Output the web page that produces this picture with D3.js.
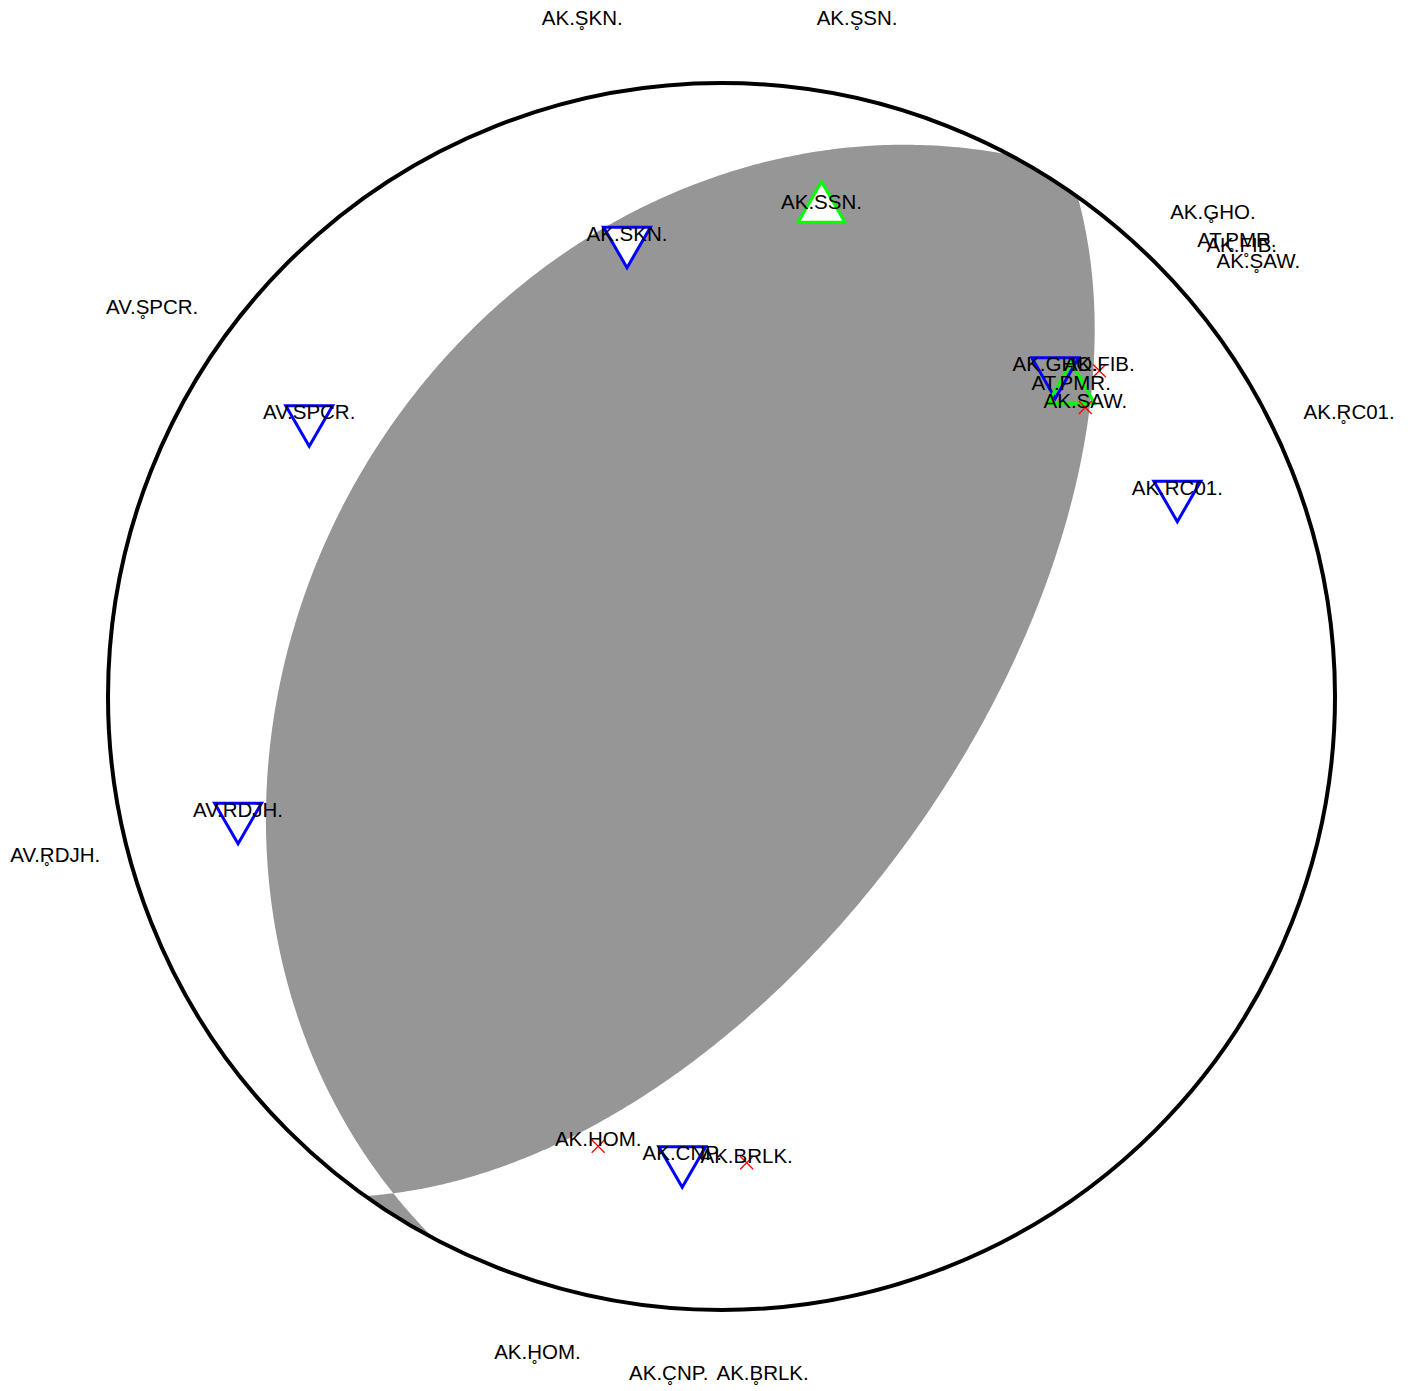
<!DOCTYPE html>
<html>
<head>
<meta charset="utf-8">
<script src="https://cdn.jsdelivr.net/npm/d3@7"></script>
<style>
  html, body { margin: 0; padding: 0; background: #ffffff; }
  svg { display: block; }
  text { font-family: "Liberation Sans", Arial, Helvetica, sans-serif; font-size: 20.5px; fill: #000; }
</style>
</head>
<body>
<script>
// ---- focal mechanism (nodal planes) ----
const planeStrikes = [208, 35.5];
const planeDips = [31.5, 58.5];

// ---- stations ----
const stationNames = ["AK.SSN", "AK.SKN", "AV.SPCR", "AV.RDJH", "AK.RC01", "AK.GHO", "AK.FIB", "AT.PMR", "AK.SAW", "AK.CNP", "AK.HOM", "AK.BRLK"];
const polarities   = ["U", "D", "D", "D", "D", "D", "X", "U", "X", "D", "X", "X"];
const markerFills  = ["white", "white", "white", "white", "white", "none", "none", "none", "none", "white", "none", "none"];
// positions inside the sphere (unit-circle coordinates, north up)
const innerX = [0.163, -0.154, -0.672, -0.788, 0.743, 0.544, 0.616, 0.570, 0.593, -0.064, -0.201, 0.041];
const innerY = [0.795, 0.743, 0.452, -0.196, 0.329, 0.530, 0.531, 0.500, 0.471, -0.756, -0.733, -0.760];
// positions of the outer labels
const outerX = [0.221, -0.227, -0.928, -1.086, 1.023, 0.801, 0.848, 0.840, 0.875, -0.086, -0.300, 0.067];
const outerY = [1.095, 1.095, 0.623, -0.269, 0.452, 0.779, 0.725, 0.733, 0.698, -1.114, -1.080, -1.114];

const W = 1412, H = 1391;
const svg = d3.select("body").append("svg").attr("width", W).attr("height", H);

const x = d3.scaleLinear().domain([-1, 1]).range([108, 1335]);
const y = d3.scaleLinear().domain([-1, 1]).range([1310, 83]);

const rad = Math.PI / 180;

function trace(strike, dip) {
  const pts = [];
  const phi = strike * rad, del = dip * rad;
  const s = [Math.cos(phi), Math.sin(phi), 0];
  const d = [Math.cos(del) * Math.cos(phi + Math.PI / 2), Math.cos(del) * Math.sin(phi + Math.PI / 2), Math.sin(del)];
  for (let i = 0; i <= 360; i++) {
    const lam = i / 2 * rad;
    const v = [0, 1, 2].map(k => Math.cos(lam) * s[k] + Math.sin(lam) * d[k]);
    const p = Math.asin(Math.max(-1, Math.min(1, v[2])));
    const az = Math.atan2(v[1], v[0]);
    const r = Math.SQRT2 * Math.sin((Math.PI / 2 - p) / 2);
    pts.push([r * Math.sin(az), r * Math.cos(az)]);
  }
  return pts;
}

function arc(az1, az2) {
  let diff = ((az2 - az1) % 360 + 540) % 360 - 180;
  const n = Math.max(2, Math.ceil(Math.abs(diff)));
  const pts = [];
  for (let i = 0; i <= n; i++) {
    const a = (az1 + diff * i / n) * rad;
    pts.push([Math.sin(a), Math.cos(a)]);
  }
  return pts;
}

const tA = trace(planeStrikes[0], planeDips[0]);
const tB = trace(planeStrikes[1], planeDips[1]);
const poly = []
  .concat(tA)
  .concat(arc(planeStrikes[0] + 180, planeStrikes[1]))
  .concat(tB)
  .concat(arc(planeStrikes[1] + 180, planeStrikes[0]));

const line = d3.line().x(d => x(d[0])).y(d => y(d[1]));

svg.append("path")
  .attr("d", line(poly) + "Z")
  .attr("fill", "#969696")
  .attr("stroke", "none");

svg.append("circle")
  .attr("cx", x(0)).attr("cy", y(0))
  .attr("r", x(1) - x(0))
  .attr("fill", "none")
  .attr("stroke", "#000")
  .attr("stroke-width", 4);

const stations = stationNames.map((n, i) => ({
  name: n, pol: polarities[i], fill: markerFills[i],
  ix: innerX[i], iy: innerY[i], ox: outerX[i], oy: outerY[i]
}));

const tri = d3.symbol().type(d3.symbolTriangle).size(950);

const g = svg.append("g");
stations.forEach(s => {
  const px = x(s.ix), py = y(s.iy);
  if (s.pol === "U") {
    g.append("path").attr("d", tri())
      .attr("transform", `translate(${px},${py})`)
      .attr("fill", s.fill).attr("stroke", "#00ff00").attr("stroke-width", 3);
  } else if (s.pol === "D") {
    g.append("path").attr("d", tri())
      .attr("transform", `translate(${px},${py}) rotate(180)`)
      .attr("fill", s.fill).attr("stroke", "#0000ff").attr("stroke-width", 3);
  } else {
    const k = 6.5;
    g.append("path")
      .attr("d", `M${px - k},${py - k}L${px + k},${py + k}M${px - k},${py + k}L${px + k},${py - k}`)
      .attr("stroke", "#ff0000").attr("stroke-width", 1.3).attr("fill", "none");
  }
});

const labels = svg.append("g");
stations.forEach(s => {
  labels.append("text")
    .attr("x", x(s.ix)).attr("y", y(s.iy))
    .attr("text-anchor", "middle")
    .text(s.name + ".");
  const parts = s.name.split(".");
  labels.append("text")
    .attr("x", x(s.ox)).attr("y", y(s.oy))
    .attr("text-anchor", "middle")
    .text(parts[0] + "." + parts[1][0] + "\u0325" + parts[1].slice(1) + ".");
});
</script>
</body>
</html>
